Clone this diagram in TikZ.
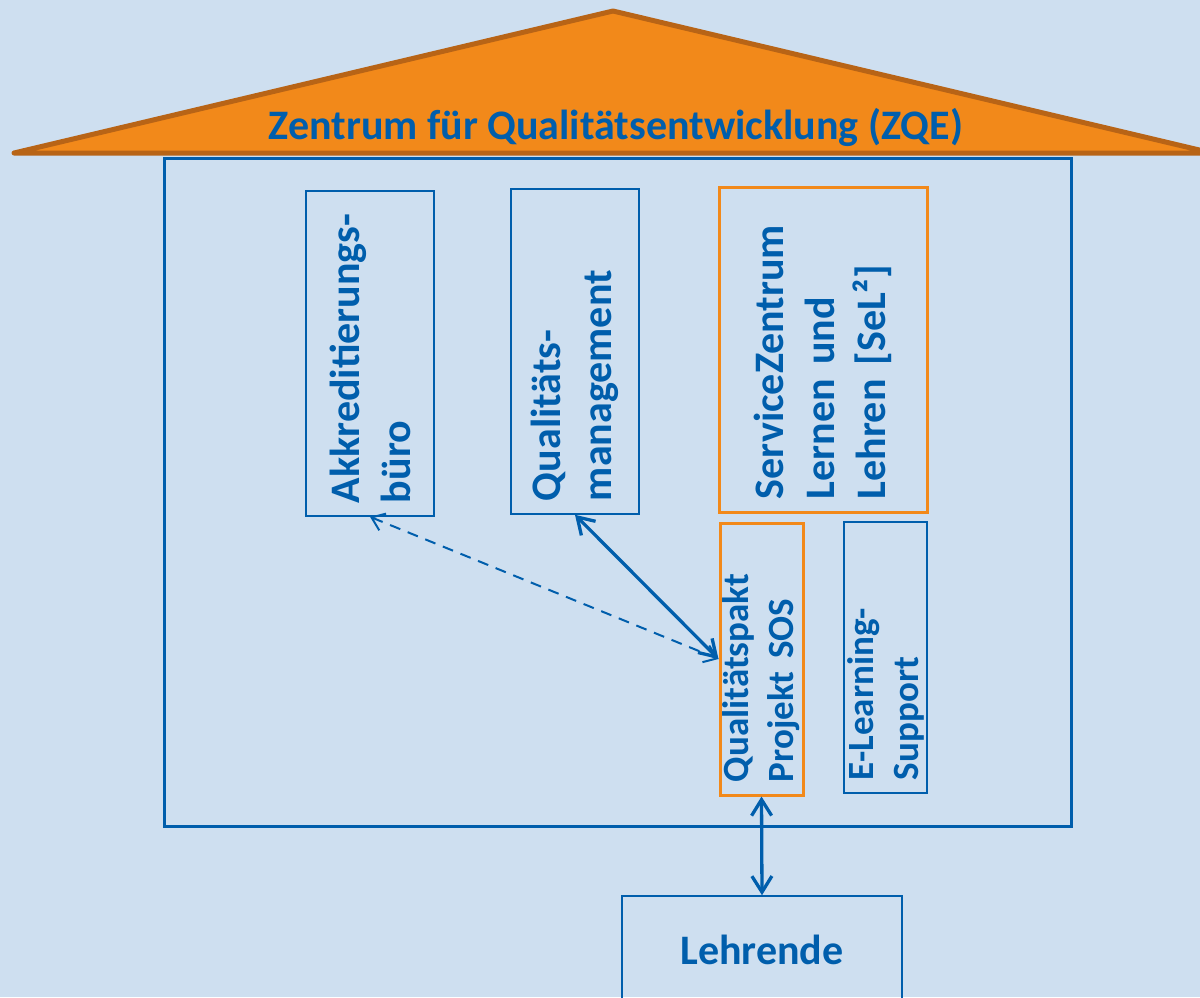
\documentclass[tikz,border=0pt]{standalone}
\usepackage{fontspec}
\setmainfont{Carlito}
\usetikzlibrary{arrows.meta}
\definecolor{bg}{RGB}{206,223,240}
\definecolor{zblue}{RGB}{0,94,172}
\definecolor{zorange}{RGB}{242,137,26}
\definecolor{zbrown}{RGB}{184,100,22}
\tikzset{
  big/.style={font=\fontsize{42}{51}\selectfont\bfseries, text=zblue},
  small/.style={font=\fontsize{37}{45}\selectfont\bfseries, text=zblue},
  vbox/.style={rotate=90, align=left, inner xsep=13pt, inner ysep=0pt},
  bluebox/.style={draw=zblue, line width=1.6pt},
  orangebox/.style={draw=zorange, line width=3pt},
  link/.style={draw=zblue, line width=3.3pt, {Straight Barb[length=16pt,width=20pt]}-{Straight Barb[length=16pt,width=20pt]}},
  dlink/.style={draw=zblue, line width=2pt, dash pattern=on 11pt off 8pt, {Straight Barb[length=12pt,width=18pt]}-{Straight Barb[length=12pt,width=18pt]}},
}
\begin{document}
\begin{tikzpicture}[x=1pt,y=-1pt]
\fill[bg] (0,0) rectangle (1200,997);
\useasboundingbox (0,0) rectangle (1200,997);
% main building
\node[draw=zblue, line width=3pt, minimum width=907pt, minimum height=668pt, inner sep=0pt] (zqe) at (617.5,492) {};
% roof
\coordinate (rl) at (14,153);
\coordinate (rt) at (613,11);
\coordinate (rr) at (1212,153);
\path[fill=zorange, draw=zbrown, line width=5pt, line join=round] (rl) -- (rt) -- (rr) -- cycle;
\node[big, anchor=base] (title) at (616,139) {Zentrum für Qualitätsentwicklung (ZQE)};
% units
\node[big, vbox, bluebox, text width=299pt, minimum width=325pt, minimum height=128pt] (akk) at (370,353.5) {Akkreditierungs-\\büro};
\node[big, vbox, bluebox, text width=299pt, minimum width=325pt, minimum height=128pt] (qm) at (575,351.5) {Qualitäts-\\management};
\node[big, vbox, orangebox, text width=299pt, minimum width=325pt, minimum height=208pt] (sz) at (823,349.5) {ServiceZentrum\\Lernen und\\Lehren [SeL²]};
\node[small, vbox, orangebox, text width=246pt, minimum width=272pt, minimum height=83pt] (sos) at (761.5,659) {Qualitätspakt\\Projekt SOS};
\node[small, vbox, bluebox, text width=245pt, minimum width=271pt, minimum height=83pt] (el) at (885.5,657.5) {E-Learning-\\Support};
\node[big, bluebox, minimum width=280pt, minimum height=108pt] (leh) at (762,950) {Lehrende};
% connectors
\draw[dlink] (akk.west) -- (sos.north);
\draw[link] (qm.west) -- (sos.north);
\draw[link] (sos.west) -- (leh.north);
\end{tikzpicture}
\end{document}
